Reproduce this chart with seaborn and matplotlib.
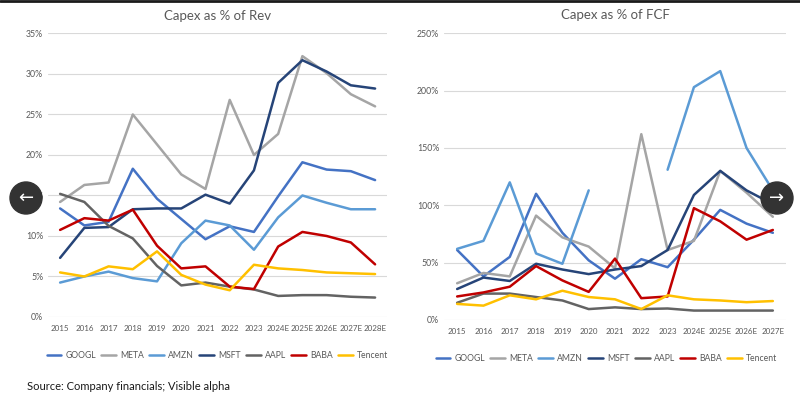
import numpy as np
import pandas as pd
import matplotlib
matplotlib.use('Agg')
import matplotlib.pyplot as plt
import seaborn as sns
from matplotlib.patches import Ellipse
from matplotlib.lines import Line2D

# data
companies = ['GOOGL', 'META', 'AMZN', 'MSFT', 'AAPL', 'BABA', 'Tencent']
colors = ['#4472C4', '#A5A5A5', '#5B9BD5', '#264478', '#636363', '#C00000', '#FFC000']

years_rev = ['2015', '2016', '2017', '2018', '2019', '2020', '2021', '2022', '2023',
             '2024E', '2025E', '2026E', '2027E', '2028E']
rev_googl = [13.4, 11.3, 11.75, 18.3, 14.6, 12.1, 9.6, 11.2, 10.5, 14.9, 19.1, 18.2, 18.0, 16.9]
rev_meta = [14.2, 16.3, 16.6, 25.0, 21.3, 17.6, 15.8, 26.8, 20.0, 22.6, 32.2, 30.1, 27.5, 26.0]
rev_amzn = [4.25, 5.0, 5.6, 4.8, 4.4, 9.1, 11.9, 11.3, 8.3, 12.3, 15.0, 14.1, 13.3, 13.3]
rev_msft = [7.3, 11.0, 11.1, 13.3, 13.4, 13.4, 15.1, 14.0, 18.1, 28.9, 31.7, 30.3, 28.6, 28.2]
rev_aapl = [15.2, 14.2, 11.25, 9.7, 6.3, 3.9, 4.25, 3.75, 3.4, 2.6, 2.7, 2.7, 2.5, 2.4]
rev_baba = [10.75, 12.2, 11.9, 13.25, 8.8, 6.0, 6.25, 3.75, 3.45, 8.7, 10.5, 10.0, 9.2, 6.5]
rev_tencent = [5.5, 5.0, 6.25, 5.9, 8.1, 5.2, 4.0, 3.3, 6.45, 6.0, 5.8, 5.5, 5.4, 5.3]

years_fcf = ['2015', '2016', '2017', '2018', '2019', '2020', '2021', '2022', '2023',
             '2024E', '2025E', '2026E', '2027E']
fcf_googl = [61, 38, 55, 110, 76, 52, 36, 53, 46, 70, 96, 84, 76]
fcf_meta = [32, 41, 38, 91, 72, 64, 45, 162, 61, 69, 130, 111, 90]
fcf_amzn = [62, 69, 120, 58, 49, 113, np.nan, np.nan, 131, 203, 217, 150, 113]
fcf_msft = [27, 37, 34, 49, 44, 40, 44, 47, 61, 109, 130, 113, 101]
fcf_aapl = [15, 23, 23, 20, 17, 9.5, 11, 9.5, 10, 8.2, 8.2, 8.2, 8.2]
fcf_baba = [20.5, 24, 29, 47, 34.5, 24.5, 53.5, 19, 20.5, 97.5, 86, 70, 78.5]
fcf_tencent = [14, 12.5, 21.5, 18, 25.5, 20, 18, 9.5, 21.5, 18, 17, 15.5, 16.5]


def to_long(series):
    rows = []
    seg = 0
    for name, vals in series.items():
        seg += 1
        for i, v in enumerate(vals):
            if np.isnan(v):
                seg += 1
                continue
            rows.append({'i': i, 'v': v, 'company': name, 'seg': seg})
    return pd.DataFrame(rows)


df_rev = to_long(dict(zip(companies, [rev_googl, rev_meta, rev_amzn, rev_msft,
                                      rev_aapl, rev_baba, rev_tencent])))
df_fcf = to_long(dict(zip(companies, [fcf_googl, fcf_meta, fcf_amzn, fcf_msft,
                                      fcf_aapl, fcf_baba, fcf_tencent])))

sns.set_theme(style='white')
plt.rcParams['font.family'] = ['Lato', 'DejaVu Sans']
txt = '#595959'

fig = plt.figure(figsize=(8, 3.96), dpi=100)
ax1 = fig.add_axes([0.06, 0.1995, 0.424, 0.716])
ax2 = fig.add_axes([0.555, 0.192, 0.4275, 0.724])

for ax, df, years, ymax, step, title, lx in [
        (ax1, df_rev, years_rev, 35, 5, 'Capex as % of Rev', 0.5),
        (ax2, df_fcf, years_fcf, 250, 50, 'Capex as % of FCF', 0.475)]:
    sns.lineplot(data=df, x='i', y='v', hue='company', hue_order=companies,
                 palette=colors, units='seg', estimator=None, lw=1.8, ax=ax)
    ax.set_xlim(-0.5, len(years) - 0.5)
    ax.set_ylim(0, ymax)
    ax.set_xticks(range(len(years)))
    ax.set_xticklabels(years, fontsize=5.8)
    yt = list(range(0, ymax + 1, step))
    ax.set_yticks(yt)
    ax.set_yticklabels([f'{t}%' for t in yt], fontsize=6.3)
    ax.tick_params(axis='both', length=0, colors=txt)
    ax.tick_params(axis='x', pad=6)
    ax.grid(axis='y', color='#D9D9D9', lw=0.8)
    ax.set_axisbelow(True)
    sns.despine(ax=ax, left=True, bottom=True)
    ax.set_xlabel('')
    ax.set_ylabel('')
    ax.set_title(title, fontsize=9.5, color=txt, pad=10)
    sns.move_legend(ax, 'center', bbox_to_anchor=(lx, -0.135), ncol=7,
                    frameon=False, title=None, fontsize=6.2, handlelength=1.7,
                    handletextpad=0.5, columnspacing=0.6, labelcolor=txt)

fig.text(27 / 800, 1 - 386 / 396, 'Source: Company financials; Visible alpha',
         fontsize=8, color='#1a1a1a', va='center', ha='left')

# top border line and slide arrows
fig.add_artist(Line2D([0, 1], [1 - 1 / 396, 1 - 1 / 396], color='#1a1a1a', lw=2))
for cx, arrow in [(26, '←'), (777, '→')]:
    fig.add_artist(Ellipse((cx / 800, 1 - 198 / 396), 32 / 800, 32 / 396,
                           color='#333333', zorder=10))
    fig.text(cx / 800, 1 - 198 / 396, arrow, color='white', fontsize=13,
             ha='center', va='center', family='DejaVu Sans', zorder=11)

fig.savefig('out.png', dpi=100)
